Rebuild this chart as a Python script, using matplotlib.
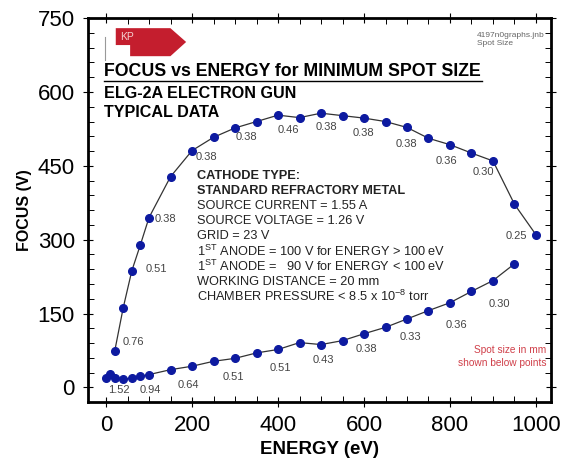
import numpy as np
import matplotlib
matplotlib.use("Agg")
import matplotlib.pyplot as plt
from matplotlib.patches import Polygon
from matplotlib.ticker import MultipleLocator

plt.rcParams['font.family'] = ['Liberation Sans', 'DejaVu Sans']
plt.rcParams['mathtext.fontset'] = 'custom'
plt.rcParams['mathtext.rm'] = 'Liberation Sans'
plt.rcParams['mathtext.it'] = 'Liberation Sans'

# upper branch (focus vs energy)
upper_e = [20, 40, 60, 80, 100, 150, 200, 250, 300, 350, 400, 450, 500, 550,
           600, 650, 700, 750, 800, 850, 900, 950, 1000]
upper_f = [73, 162, 237, 290, 345, 428, 481, 508, 527, 540, 553, 548, 557, 552,
           547, 540, 528, 506, 493, 476, 460, 372, 310]
# lower branch
lower_e = [0, 10, 20, 40, 60, 80, 100, 150, 200, 250, 300, 350, 400, 450, 500,
           550, 600, 650, 700, 750, 800, 850, 900, 950]
lower_f = [20, 28, 19, 17, 19, 23, 26, 36, 43, 53, 59, 70, 77, 91, 87,
           95, 109, 122, 139, 156, 172, 195, 217, 251]

# spot size labels (text, x, y, align)
upper_spots = [("0.76", 39, 93, 'left'), ("0.51", 91, 241, 'left'),
               ("0.38", 114, 343, 'left'), ("0.38", 209, 469, 'left'),
               ("0.38", 327, 509, 'center'), ("0.46", 423, 523, 'center'),
               ("0.38", 512, 528, 'center'), ("0.38", 598, 516, 'center'),
               ("0.38", 699, 495, 'center'), ("0.36", 792, 459, 'center'),
               ("0.30", 877, 438, 'center'), ("0.25", 955, 308, 'center')]
lower_spots = [("1.52", 29, -6), ("0.94", 102, -6), ("0.64", 191, 4),
               ("0.51", 296, 21), ("0.51", 405, 40), ("0.43", 505, 55),
               ("0.38", 606, 77), ("0.33", 707, 103), ("0.36", 816, 126),
               ("0.30", 916, 170)]

info_lines = ["CATHODE TYPE:", "STANDARD REFRACTORY METAL",
              "SOURCE CURRENT = 1.55 A", "SOURCE VOLTAGE = 1.26 V",
              "GRID = 23 V",
              "1$^{\\mathrm{ST}}$ ANODE = 100 V for ENERGY > 100 eV",
              "1$^{\\mathrm{ST}}$ ANODE =   90 V for ENERGY < 100 eV",
              "WORKING DISTANCE = 20 mm",
              "CHAMBER PRESSURE < 8.5 x 10$^{\\mathrm{-8}}$ torr"]

fig = plt.figure(figsize=(5.64, 4.66), dpi=100)
ax = fig.add_axes([0.156, 0.137, 0.821, 0.824])

dot = '#0d1aa0'
ax.plot(upper_e, upper_f, '-', color='#333333', lw=0.9, marker='o', ms=5.5,
        mfc=dot, mec=dot, zorder=3)
ax.plot(lower_e, lower_f, '-', color='#333333', lw=0.9, marker='o', ms=5.5,
        mfc=dot, mec=dot, zorder=3)

for t, x, y, ha in upper_spots:
    ax.text(x, y, t, fontsize=8, color='#444444', ha=ha, va='center')
for t, x, y in lower_spots:
    ax.text(x, y, t, fontsize=8, color='#444444', ha='center', va='center')

ax.set_xlim(-42, 1035)
ax.set_ylim(-30, 750)
ax.xaxis.set_major_locator(MultipleLocator(200))
ax.xaxis.set_minor_locator(MultipleLocator(50))
ax.yaxis.set_major_locator(MultipleLocator(150))
ax.yaxis.set_minor_locator(MultipleLocator(30))
ax.tick_params(which='major', direction='inout', length=7, width=0.8,
               top=True, right=True, labelsize=16, pad=6)
ax.tick_params(which='minor', direction='in', length=4, width=0.7,
               top=True, right=True)
for s in ax.spines.values():
    s.set_linewidth(2)

ax.set_xlabel('ENERGY (eV)', fontsize=13.5, fontweight='bold', labelpad=3)
ax.set_ylabel('FOCUS (V)', fontsize=11.5, fontweight='bold', labelpad=4)

# titles
ax.text(0.035, 0.86, 'FOCUS vs ENERGY for MINIMUM SPOT SIZE', transform=ax.transAxes,
        fontsize=12.8, fontweight='bold', va='center')
ax.plot([0.035, 0.852], [0.836, 0.836], transform=ax.transAxes, color='k', lw=1)
ax.text(0.035, 0.805, 'ELG-2A ELECTRON GUN', transform=ax.transAxes,
        fontsize=11.6, fontweight='bold', va='center')
ax.text(0.035, 0.755, 'TYPICAL DATA', transform=ax.transAxes,
        fontsize=11.6, fontweight='bold', va='center')

# cathode info block
y0 = 0.589
for i, line in enumerate(info_lines):
    ax.text(0.235, y0 - i * 0.0393, line, transform=ax.transAxes, fontsize=9.2,
            fontweight='bold' if i < 2 else 'normal', color='#222222', va='center')

# note
ax.text(0.99, 0.135, 'Spot size in mm', transform=ax.transAxes, fontsize=7.3,
        color='#d0404a', ha='right', va='center')
ax.text(0.99, 0.103, 'shown below points', transform=ax.transAxes, fontsize=7.3,
        color='#d0404a', ha='right', va='center')
ax.text(0.84, 0.945, '4197n0graphs.jnb\nSpot Size', transform=ax.transAxes,
        fontsize=6, color='#666666', va='center', linespacing=1.1)

# KP logo
logo = Polygon([[0.060, 0.974], [0.178, 0.974], [0.212, 0.938], [0.178, 0.901],
                [0.091, 0.901], [0.091, 0.930], [0.060, 0.930]], closed=True,
               transform=ax.transAxes, facecolor='#c41e2e', edgecolor='none')
ax.add_patch(logo)
ax.text(0.070, 0.952, 'KP', transform=ax.transAxes, fontsize=7.5, color='#f4d0d0',
        va='center')
ax.plot([0.037, 0.037], [0.89, 0.95], transform=ax.transAxes, color='#999999', lw=0.8)

fig.savefig('out.png', dpi=100)
